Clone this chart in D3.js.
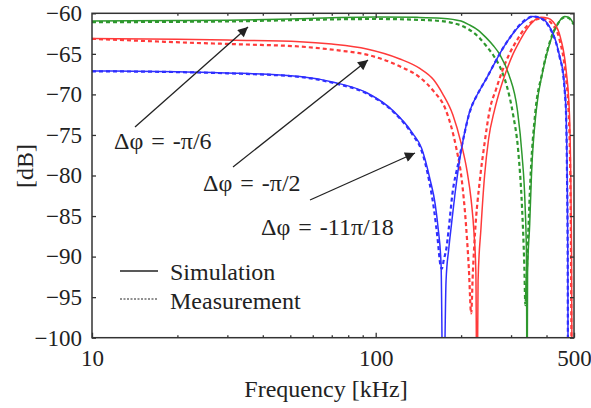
<!DOCTYPE html>
<html>
<head>
<meta charset="utf-8">
<script src="https://cdn.jsdelivr.net/npm/d3@7"></script>
<style>
  body { margin: 0; background: #fff; }
</style>
</head>
<body>
<div id="chart"></div>
<script>
// [kHz, dB]
const greenSim = [[10,-60.95],[20,-60.9],[30,-60.85],[50,-60.7],[70,-60.55],[100,-60.45],[140,-60.5],[170,-60.6],[187,-60.75],[200,-60.95],[213,-61.4],[230,-62.1],[245,-63.0],[260,-64.0],[274,-65.1],[295,-67.6],[316,-72.0],[328,-77.5],[336,-83.5],[340,-90],[341.5,-112],[343,-92],[349,-86],[354,-80],[368,-72],[388,-67.2],[416,-63.1],[440,-61.2],[463,-60.4],[480,-60.5],[495,-61.1],[500,-61.3]];
const greenMeas = [[10,-61.1],[20,-61.05],[30,-61.0],[50,-60.85],[70,-60.75],[100,-60.7],[140,-60.8],[170,-60.95],[187,-61.2],[200,-61.5],[213,-62.0],[230,-62.9],[245,-64.0],[260,-65.2],[274,-66.6],[290,-69.0],[305,-72.5],[318,-77],[328,-84],[334,-91],[337,-96],[340,-93],[345,-87],[351,-80.5],[365,-72.3],[386,-67.4],[413,-63.3],[440,-61.2],[463,-60.5],[480,-60.6],[495,-61.2],[500,-61.4]];
const redSim = [[10,-63.1],[20,-63.2],[30,-63.3],[54,-63.5],[70,-63.8],[93,-64.4],[121,-65.6],[143,-66.8],[160,-68.2],[172,-69.9],[187,-72.5],[200,-76],[210,-79.5],[217,-83],[222,-87],[225.5,-92],[227.5,-112],[229.5,-93],[235,-86.5],[242,-80],[250,-75.5],[262,-72],[275,-69.3],[288,-67.2],[305,-65.0],[322,-63.4],[340,-62.0],[357,-61.1],[383,-60.5],[405,-60.6],[421,-61.0],[448,-63.0],[469,-67.0],[482,-72.5],[487,-80],[490,-89],[493,-112]];
const redMeas = [[10,-63.15],[15,-63.4],[23,-63.65],[35,-63.85],[54,-64.1],[75,-64.6],[93,-65.1],[121,-66.5],[143,-67.9],[160,-69.6],[177,-72],[192,-76.5],[201,-80.5],[208,-86],[213,-91.5],[217,-97],[220,-92],[224,-87],[233,-80.5],[242,-76],[252,-72],[266,-69.3],[280,-67],[297,-64.9],[315,-63.3],[333,-62],[350,-61.2],[376,-60.7],[400,-60.8],[418,-61.3],[445,-63.3],[466,-67.3],[479,-72.5],[485,-80],[488,-90],[491,-112]];
const blueSim = [[10,-67.1],[20,-67.2],[30,-67.35],[54,-67.8],[71,-68.5],[93,-69.8],[115,-72.0],[135,-74.8],[145,-76.6],[155.5,-80.5],[162,-83.5],[166,-86.5],[170,-91],[173,-112],[177,-93],[181,-89],[185,-86],[190,-82.5],[197.6,-78.1],[205,-75],[214,-72.2],[230,-69.8],[246,-68.0],[262,-66.2],[281,-64.3],[300,-62.8],[322,-61.5],[340,-60.8],[357,-60.4],[375,-60.5],[398,-61.0],[415,-62.0],[432,-63.5],[445,-65.3],[457,-67.2],[464,-69.5],[469,-72.5],[473,-80],[475.5,-90],[477,-112]];
const blueMeas = [[10,-67.15],[20,-67.25],[30,-67.4],[54,-67.85],[71,-68.6],[93,-69.9],[115,-72.1],[135,-75],[145,-76.9],[155,-81],[161,-84.5],[165.5,-88],[169,-91],[171,-91.5],[174,-90.3],[177.5,-89],[181,-86.5],[186,-82.5],[196,-78.3],[205,-75],[214,-72.3],[230,-69.8],[246,-68.0],[262,-66.2],[281,-64.3],[300,-62.8],[322,-61.4],[340,-60.7],[357,-60.4],[375,-60.5],[398,-61.1],[415,-62.1],[432,-63.6],[445,-65.4],[457,-67.3],[464,-69.7],[469,-72.7],[472.5,-80],[475,-90],[476.5,-112]];

const xLabels = [10, 100, 500];
const xMinor = [20, 30, 40, 50, 60, 70, 80, 90, 200, 300, 400];
const yTicks = [-100, -95, -90, -85, -80, -75, -70, -65, -60];

const W = 591, H = 408;
const plotL = 92, plotR = 574, plotT = 13.3, plotB = 337.7;
const serif = `"Liberation Serif"`;

const svg = d3.select("#chart").append("svg")
  .attr("width", W).attr("height", H);

const x = d3.scaleLog().domain([10, 500]).range([plotL, plotR]);
const y = d3.scaleLinear().domain([-100, -60]).range([plotB, plotT]);

const defs = svg.append("defs");
defs.append("clipPath").attr("id", "plot")
  .append("rect").attr("x", plotL).attr("y", plotT)
  .attr("width", plotR - plotL).attr("height", plotB - plotT);

const line = d3.line()
  .x(d => x(d[0]))
  .y(d => y(d[1]))
  .curve(d3.curveMonotoneX);

const series = [
  { data: greenMeas, color: "#2e982e", dash: "4,3", w: 2.2 },
  { data: redMeas, color: "#ff3a3a", dash: "4,3", w: 2.2 },
  { data: blueMeas, color: "#2f2fff", dash: "4,3", w: 2.2 },
  { data: greenSim, color: "#2e982e", dash: null, w: 1.5 },
  { data: redSim, color: "#ff3a3a", dash: null, w: 1.5 },
  { data: blueSim, color: "#2f2fff", dash: null, w: 1.5 },
];

const g = svg.append("g").attr("clip-path", "url(#plot)");
series.forEach(s => {
  g.append("path")
    .datum(s.data)
    .attr("fill", "none")
    .attr("stroke", s.color)
    .attr("stroke-width", s.w)
    .attr("stroke-dasharray", s.dash)
    .attr("d", line);
});

// axes: ticks point inward on all four sides
const axisColor = "#333";
function styleAxis(sel) {
  sel.select(".domain").remove();
  sel.selectAll(".tick line").attr("stroke", axisColor).attr("stroke-width", 1.3);
}

svg.append("g").attr("transform", `translate(0,${plotB})`)
  .call(d3.axisBottom(x).tickValues(xMinor).tickSize(-2.5).tickFormat(""))
  .call(styleAxis);
svg.append("g").attr("transform", `translate(0,${plotB})`)
  .call(d3.axisBottom(x).tickValues(xLabels).tickSize(-5).tickPadding(12).tickFormat(d3.format("d")))
  .call(styleAxis)
  .selectAll("text").attr("font-size", 23);
svg.append("g").attr("transform", `translate(0,${plotT})`)
  .call(d3.axisTop(x).tickValues(xMinor).tickSize(-2.5).tickFormat(""))
  .call(styleAxis);
svg.append("g").attr("transform", `translate(0,${plotT})`)
  .call(d3.axisTop(x).tickValues([100]).tickSize(-5).tickFormat(""))
  .call(styleAxis);
svg.append("g").attr("transform", `translate(${plotL},0)`)
  .call(d3.axisLeft(y).tickValues(yTicks).tickSize(-4).tickPadding(10).tickFormat(d3.format("d")))
  .call(styleAxis)
  .selectAll("text").attr("font-size", 23);
svg.append("g").attr("transform", `translate(${plotR},0)`)
  .call(d3.axisRight(y).tickValues(yTicks).tickSize(-4).tickFormat(""))
  .call(styleAxis);

svg.append("rect")
  .attr("x", plotL).attr("y", plotT)
  .attr("width", plotR - plotL).attr("height", plotB - plotT)
  .attr("fill", "none").attr("stroke", axisColor).attr("stroke-width", 1.5);

// axis titles
svg.append("text")
  .attr("x", 326).attr("y", 397)
  .attr("text-anchor", "middle").attr("font-size", 24)
  .text("Frequency [kHz]");
svg.append("text")
  .attr("transform", "translate(33,166) rotate(-90)")
  .attr("text-anchor", "middle").attr("font-size", 24)
  .text("[dB]");

// legend
const legend = svg.append("g");
legend.append("line").attr("x1", 120).attr("x2", 158).attr("y1", 271).attr("y2", 271)
  .attr("stroke", "#222").attr("stroke-width", 1.5);
legend.append("line").attr("x1", 120).attr("x2", 158).attr("y1", 299).attr("y2", 299)
  .attr("stroke", "#222").attr("stroke-width", 1).attr("stroke-dasharray", "2,1.5");
legend.append("text").attr("x", 170).attr("y", 280).attr("font-size", 24).text("Simulation");
legend.append("text").attr("x", 170).attr("y", 309).attr("font-size", 24).text("Measurement");

// annotations with arrows
defs.append("marker")
  .attr("id", "head").attr("viewBox", "0 0 10 10")
  .attr("refX", 10).attr("refY", 5)
  .attr("markerWidth", 13).attr("markerHeight", 10)
  .attr("markerUnits", "userSpaceOnUse")
  .attr("orient", "auto")
  .append("path").attr("d", "M0,0 L10,5 L0,10 Z").attr("fill", "#222");

const notes = [
  { label: "\u0394\u03c6 = -\u03c0/6", tx: 114, ty: 149, from: [135, 127], to: [248, 27] },
  { label: "\u0394\u03c6 = -\u03c0/2", tx: 203, ty: 191, from: [233, 167], to: [368, 60] },
  { label: "\u0394\u03c6 = -11\u03c0/18", tx: 261, ty: 235, from: [310, 200], to: [415, 153] },
];
notes.forEach(n => {
  svg.append("line")
    .attr("x1", n.from[0]).attr("y1", n.from[1])
    .attr("x2", n.to[0]).attr("y2", n.to[1])
    .attr("stroke", "#222").attr("stroke-width", 1.3)
    .attr("marker-end", "url(#head)");
  svg.append("text").attr("x", n.tx).attr("y", n.ty).attr("font-size", 24)
    .style("word-spacing", "2px").text(n.label);
});

svg.selectAll("text").style("font-family", serif).attr("fill", "#222");
</script>
</body>
</html>
